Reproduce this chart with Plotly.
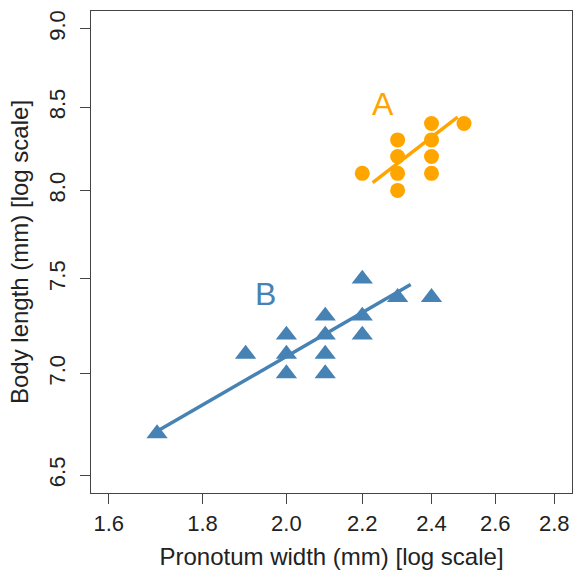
import numpy as np
import plotly.graph_objects as go

# Group A (orange circles)
a_x = [2.2, 2.3, 2.3, 2.3, 2.3, 2.4, 2.4, 2.4, 2.4, 2.5]
a_y = [8.1, 8.3, 8.2, 8.1, 8.0, 8.4, 8.3, 8.2, 8.1, 8.4]
a_line_x = [2.229, 2.480]
a_line_y = [8.045, 8.439]

# Group B (blue triangles)
b_x = [1.7, 1.9, 2.0, 2.0, 2.0, 2.1, 2.1, 2.1, 2.1, 2.2, 2.2, 2.2, 2.3, 2.4]
b_y = [6.7, 7.1, 7.2, 7.1, 7.0, 7.3, 7.2, 7.1, 7.0, 7.5, 7.3, 7.2, 7.4, 7.4]
b_line_x = [1.698, 2.338]
b_line_y = [6.709, 7.469]

x_ticks = [1.6, 1.8, 2.0, 2.2, 2.4, 2.6, 2.8]
y_ticks = [6.5, 7.0, 7.5, 8.0, 8.5, 9.0]
x_lim = [1.6, 2.8]
y_lim = [6.5, 9.0]

labels = [("A", 2.258, 8.523), ("B", 1.948, 7.418)]

ORANGE = "#FFA500"
BLUE = "#4682B4"
FONT = "Liberation Sans, Arial, sans-serif"


def ext(lim):
    lo, hi = np.log10(lim[0]), np.log10(lim[1])
    d = (hi - lo) * 0.04
    return [lo - d, hi + d]


fig = go.Figure()
fig.add_trace(go.Scatter(x=a_x, y=a_y, mode="markers",
                         marker=dict(symbol="circle", size=15, color=ORANGE, line=dict(width=0)),
                         showlegend=False))
fig.add_trace(go.Scatter(x=a_line_x, y=a_line_y, mode="lines",
                         line=dict(color=ORANGE, width=3.5), showlegend=False))
fig.add_trace(go.Scatter(x=b_x, y=b_y, mode="markers",
                         marker=dict(symbol="triangle-up", size=18.5, color=BLUE, line=dict(width=0)),
                         showlegend=False))
fig.add_trace(go.Scatter(x=b_line_x, y=b_line_y, mode="lines",
                         line=dict(color=BLUE, width=3.5), showlegend=False))

for (txt, lx, ly), col in zip(labels, [ORANGE, BLUE]):
    fig.add_annotation(x=np.log10(lx), y=np.log10(ly), text=txt, showarrow=False,
                       font=dict(family=FONT, size=32, color=col),
                       xanchor="center", yanchor="middle")

fig.update_layout(
    width=574, height=573,
    margin=dict(l=91, r=2, t=11, b=80, autoexpand=False),
    paper_bgcolor="white", plot_bgcolor="white",
    font=dict(family=FONT, size=22, color="#222"),
    xaxis=dict(type="log", range=ext(x_lim), tickvals=x_ticks,
               ticktext=[f"{v:.1f}" for v in x_ticks], automargin=False,
               showgrid=False, zeroline=False, showline=True, mirror=True,
               linecolor="#444", linewidth=1.2,
               ticks="outside", ticklen=10, tickwidth=1.2, tickcolor="#444",
               ticklabelstandoff=0,
               title=dict(text="Pronotum width (mm) [log scale]", font=dict(size=24), standoff=13)),
    yaxis=dict(type="log", range=ext(y_lim), tickvals=y_ticks,
               ticktext=[f"{v:.1f}" for v in y_ticks], tickangle=-90, automargin=False,
               showgrid=False, zeroline=False, showline=True, mirror=True,
               linecolor="#444", linewidth=1.2,
               ticks="outside", ticklen=10, tickwidth=1.2, tickcolor="#444",
               ticklabelstandoff=6,
               title=dict(text="Body length (mm) [log scale]", font=dict(size=24), standoff=9)),
)

fig.write_html("out.html", config={"displayModeBar": False},
               post_script="document.body.style.margin='0';document.body.style.padding='0';")
